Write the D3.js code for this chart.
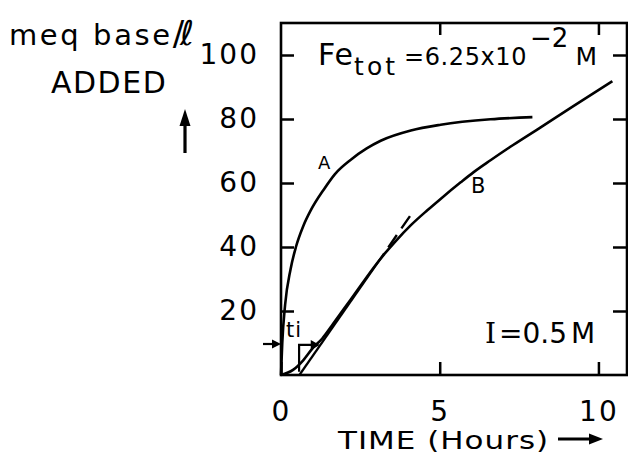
<!DOCTYPE html>
<html>
<head>
<meta charset="utf-8">
<script src="https://cdn.jsdelivr.net/npm/d3@7"></script>
<style>
  html, body { margin: 0; padding: 0; background: #fff; }
  svg { display: block; }
  text { font-family: "DejaVu Sans", sans-serif; fill: #000; }
</style>
</head>
<body>
<svg id="chart" width="628" height="465"></svg>
<script>
// Base consumption (meq/l) versus time (hours), Fe_tot = 6.25e-2 M, I = 0.5 M
const curveA = [
  [0, 0], [0.04, 10], [0.13, 22], [0.3, 33], [0.47, 40], [0.7, 46.5],
  [0.94, 51.5], [1.35, 58], [1.7, 62.8], [2.2, 67.3], [2.7, 70.8],
  [3.14, 73.2], [4.09, 76.4], [5.03, 78.2], [6.6, 79.9], [7.92, 80.6]
];
const curveB = [
  [0, 0], [0.38, 1.6], [0.7, 4.6], [1.0, 8.4], [1.3, 11.4], [1.6, 15.4],
  [2.0, 20.9], [2.5, 27.8], [3.0, 34.6], [3.3, 38.3], [3.6, 41.7],
  [4.1, 46.9], [4.6, 51.4], [5.0, 54.8], [5.66, 60.2], [6.07, 63.4],
  [6.6, 67.1], [7.3, 71.8], [8.18, 77.4], [9.21, 84.0], [10.44, 91.8]
];
// tangent to B at its inflection; its time-axis intercept is t_i
const tangentSolid = [[0.58, 0], [3.25, 38.0]];
const tangentDashed = [[3.38, 39.9], [4.15, 50.9]];
const xTicks = [0, 5, 10];
const yTicks = [20, 40, 60, 80, 100];

const svg = d3.select("#chart");
const x = d3.scaleLinear().domain([0, 10.9]).range([281, 627]);
const y = d3.scaleLinear().domain([0, 110]).range([375, 23]);

// plot frame
svg.append("rect")
  .attr("x", x(0)).attr("y", y(110))
  .attr("width", x(10.9) - x(0)).attr("height", y(0) - y(110))
  .attr("fill", "none").attr("stroke", "#000").attr("stroke-width", 2.6);

function styleAxis(g, fontSize) {
  g.select(".domain").remove();
  g.selectAll(".tick line").attr("stroke", "#000").attr("stroke-width", 2.5);
  g.selectAll(".tick text")
    .attr("font-family", "DejaVu Sans, sans-serif")
    .attr("font-size", fontSize)
    .attr("letter-spacing", 2)
    .attr("fill", "#000");
  g.attr("font-family", null).attr("font-size", null);
}

svg.append("g").attr("transform", `translate(${x(0)},0)`)
  .call(d3.axisLeft(y).tickValues(yTicks).tickSize(-13).tickPadding(22))
  .call(g => styleAxis(g, 28));

svg.append("g").attr("transform", `translate(0,${y(0)})`)
  .call(d3.axisBottom(x).tickValues(xTicks).tickSize(-13).tickPadding(26))
  .call(g => styleAxis(g, 28));

svg.append("g").attr("transform", `translate(${x(10.9)},0)`)
  .call(d3.axisRight(y).tickValues(yTicks).tickSize(-14).tickFormat(""))
  .call(g => styleAxis(g, 10));

svg.append("g").attr("transform", `translate(0,${y(110)})`)
  .call(d3.axisTop(x).tickValues([5, 10]).tickSize(-12).tickFormat(""))
  .call(g => styleAxis(g, 10));

// curves
const line = d3.line().x(d => x(d[0])).y(d => y(d[1])).curve(d3.curveMonotoneX);
const straight = d3.line().x(d => x(d[0])).y(d => y(d[1]));

svg.append("path").datum(curveA).attr("d", line)
  .attr("fill", "none").attr("stroke", "#000").attr("stroke-width", 2.6);
svg.append("path").datum(curveB).attr("d", line)
  .attr("fill", "none").attr("stroke", "#000").attr("stroke-width", 2.6);
svg.append("path").datum(tangentSolid).attr("d", straight)
  .attr("fill", "none").attr("stroke", "#000").attr("stroke-width", 2.2);
svg.append("path").datum(tangentDashed).attr("d", straight)
  .attr("fill", "none").attr("stroke", "#000").attr("stroke-width", 2.4)
  .attr("stroke-dasharray", "15,8");

// curve labels
svg.append("text").attr("x", 318).attr("y", 169).attr("font-size", 18).text("A");
svg.append("text").attr("x", 471).attr("y", 193).attr("font-size", 21).text("B");

// t_i marker
const tiMark = [[0.57, 1], [0.57, 9.4], [1.0, 9.4]];
svg.append("path").datum(tiMark).attr("d", straight)
  .attr("fill", "none").attr("stroke", "#000").attr("stroke-width", 2.2);
{
  const px = x(1.0), py = y(9.4);
  svg.append("path")
    .attr("d", `M${px - 2},${py - 5} L${px + 7},${py} L${px - 2},${py + 5} Z`)
    .attr("fill", "#000");
}
svg.append("text").attr("x", 286).attr("y", 337).attr("font-size", 21)
  .attr("letter-spacing", 1).text("ti");
// arrow pointing at the axis, left of the t_i label
svg.append("line").attr("x1", 263).attr("y1", 344).attr("x2", 274).attr("y2", 344)
  .attr("stroke", "#000").attr("stroke-width", 2.2);
svg.append("path").attr("d", "M272,339.5 L281,344 L272,348.5 Z").attr("fill", "#000");

// condition labels
const fe = svg.append("text").attr("x", 318).attr("y", 65);
fe.append("tspan").attr("font-size", 30).attr("letter-spacing", 1).text("Fe");
fe.append("tspan").attr("font-size", 25).attr("dy", 10).attr("letter-spacing", 3).text("tot");
fe.append("tspan").attr("font-size", 24).attr("dy", -10).attr("dx", 6)
  .attr("letter-spacing", 0.6).text("=6.25x10");
fe.append("tspan").attr("font-size", 26).attr("dy", -18).attr("dx", 3).text("−2");
fe.append("tspan").attr("font-size", 25).attr("dy", 18).attr("dx", 7).text("M");

const ion = svg.append("text").attr("x", 485).attr("y", 343).attr("font-size", 28);
ion.append("tspan").attr("font-family", "DejaVu Serif, serif").text("I");
ion.append("tspan").attr("dx", 3).text("=0.5");
ion.append("tspan").attr("dx", 4).text("M");

// axis titles
const yTitle = svg.append("text").attr("x", 9).attr("y", 45);
yTitle.append("tspan").attr("font-size", 29).attr("letter-spacing", 2.6).text("meq base");
yTitle.append("tspan").attr("font-size", 34).attr("letter-spacing", -4).text("/ℓ");
svg.append("text").attr("x", 51).attr("y", 93).attr("font-size", 30)
  .attr("letter-spacing", 1.5).text("ADDED");
svg.append("line").attr("x1", 185).attr("y1", 153).attr("x2", 185).attr("y2", 120)
  .attr("stroke", "#000").attr("stroke-width", 3.2);
svg.append("path").attr("d", "M179.5,126 L185,109 L190.5,126 Z").attr("fill", "#000");

svg.append("text")
  .attr("transform", "translate(338,449) scale(1.24,1)")
  .attr("font-size", 25).attr("letter-spacing", 0.8).text("TIME (Hours)");
svg.append("line").attr("x1", 558).attr("y1", 439).attr("x2", 592).attr("y2", 439)
  .attr("stroke", "#000").attr("stroke-width", 3);
svg.append("path").attr("d", "M589,433.5 L603,439 L589,444.5 Z").attr("fill", "#000");
</script>
</body>
</html>
